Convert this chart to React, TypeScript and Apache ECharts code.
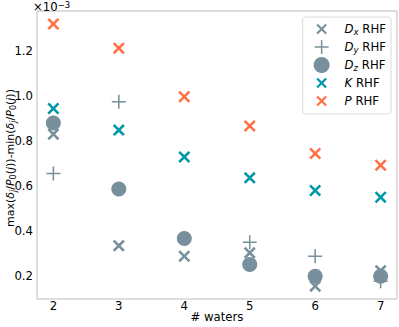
import React, { useEffect, useRef } from "react";
import * as echarts from "echarts";

const waters = [2, 3, 4, 5, 6, 7];
const dxRHF = [0.831, 0.336, 0.289, 0.304, 0.156, 0.225];
const dyRHF = [0.656, 0.975, 0.37, 0.351, 0.289, 0.178];
const dzRHF = [0.881, 0.588, 0.368, 0.252, 0.2, 0.2];
const kRHF = [0.945, 0.849, 0.73, 0.637, 0.581, 0.551];
const pRHF = [1.32, 1.213, 0.997, 0.867, 0.745, 0.693];
const xTicks = [2, 3, 4, 5, 6, 7];
const yTicks = [0.2, 0.4, 0.6, 0.8, 1.0, 1.2];

const GRAY = "#78909C";
const TEAL = "#0097A7";
const ORANGE = "#FF7043";
const FONT = "DejaVu Sans";
const FS = 11.7;

function xPath(S: number, d: number, box: number) {
  const o = (box - S) / 2;
  const h = S / 2;
  const pts = [
    [0, d], [d, 0], [h, h - d], [S - d, 0], [S, d], [h + d, h],
    [S, S - d], [S - d, S], [h, h + d], [d, S], [0, S - d], [h - d, h],
  ];
  let s = "path://";
  if (o > 0) s += `M0 0 M${box} ${box} `;
  s += pts.map((p, i) => `${i === 0 ? "M" : "L"}${(p[0] + o).toFixed(2)} ${(p[1] + o).toFixed(2)}`).join(" ") + " Z";
  return s;
}

function plusPath(S: number, w: number, box: number) {
  const o = (box - S) / 2;
  const a = S / 2 - w / 2;
  const b = S / 2 + w / 2;
  const pts = [
    [a, 0], [b, 0], [b, a], [S, a], [S, b], [b, b],
    [b, S], [a, S], [a, b], [0, b], [0, a], [a, a],
  ];
  let s = "path://";
  if (o > 0) s += `M0 0 M${box} ${box} `;
  s += pts.map((p, i) => `${i === 0 ? "M" : "L"}${(p[0] + o).toFixed(2)} ${(p[1] + o).toFixed(2)}`).join(" ") + " Z";
  return s;
}

const X_SYM = xPath(10, 1.5, 10);
const PLUS_SYM = plusPath(10, 1.1, 10);

const legendNames = ["Dx RHF", "Dy RHF", "Dz RHF", "K RHF", "P RHF"];
const legendRich: Record<string, string> = {
  "Dx RHF": "{i|D}{s|x}{n| RHF}",
  "Dy RHF": "{i|D}{s|y}{n| RHF}",
  "Dz RHF": "{i|D}{s|z}{n| RHF}",
  "K RHF": "{i|K}{n| RHF}",
  "P RHF": "{i|P}{n| RHF}",
};

function richSet(size: number, sub: number, lh: number, pad: number) {
  return {
    n: { fontFamily: FONT, fontSize: size, color: "#000", lineHeight: lh },
    i: { fontFamily: FONT, fontSize: size, fontStyle: "italic", color: "#000", lineHeight: lh },
    s: { fontFamily: FONT, fontSize: sub, fontStyle: "italic", color: "#000", lineHeight: lh, verticalAlign: "bottom", padding: [pad, 0, 0, 0] },
    s0: { fontFamily: FONT, fontSize: sub, color: "#000", lineHeight: lh, verticalAlign: "bottom", padding: [pad, 0, 0, 0] },
  };
}

export default function App() {
  const ref = useRef<HTMLDivElement>(null);
  useEffect(() => {
    if (!ref.current) return;
    const chart = echarts.init(ref.current, null, { renderer: "svg" });
    const mk = (vals: number[]) => waters.map((w, i) => [w, vals[i]]);
    const yName =
      "{n|max(}{i|δ}{s|j}{n|/}{i|P}{s0|0}{n|(}{i|j}{n|))-min(}{i|δ}{s|j}{n|/}{i|P}{s0|0}{n|(}{i|j}{n|))}";
    chart.setOption({
      animation: false,
      grid: { left: 37, top: 11, right: 2, bottom: 28, outerBoundsMode: "none", containLabel: false, show: true, borderColor: "#bdbdbd", borderWidth: 1, backgroundColor: "transparent" },
      xAxis: {
        type: "value",
        min: 1.75,
        max: 7.25,
        axisLine: { show: false },
        axisTick: { show: false },
        splitLine: { show: false },
        axisLabel: { customValues: xTicks, fontFamily: FONT, fontSize: FS, color: "#000", margin: 1 },
      },
      yAxis: {
        type: "value",
        min: 0.099,
        max: 1.378,
        axisLine: { show: false },
        axisTick: { show: false },
        splitLine: { show: false },
        axisLabel: { customValues: yTicks, fontFamily: FONT, fontSize: FS, color: "#000", margin: 4, formatter: (v: number) => v.toFixed(1) },
      },
      legend: {
        orient: "vertical",
        right: 8,
        top: 17,
        itemWidth: 16,
        itemHeight: 16,
        itemGap: 2,
        padding: [4, 5, 5, 11],
        borderColor: "#dcdcdc",
        borderWidth: 1,
        borderRadius: 3,
        backgroundColor: "rgba(255,255,255,0.8)",
        data: [
          { name: "Dx RHF", icon: xPath(10.5, 1.5, 16) },
          { name: "Dy RHF", icon: plusPath(14, 1.5, 16) },
          { name: "Dz RHF", icon: "circle" },
          { name: "K RHF", icon: xPath(10.5, 1.6, 16) },
          { name: "P RHF", icon: xPath(10.5, 1.6, 16) },
        ],
        formatter: (name: string) => legendRich[name],
        textStyle: { padding: [0, 0, 0, 10], rich: richSet(FS, 8.5, 15, 4) },
      },
      graphic: [
        {
          type: "text",
          left: 33,
          top: 0,
          style: {
            text: "{n|×10}{sup|−3}",
            rich: {
              n: { fontFamily: FONT, fontSize: FS, color: "#000", lineHeight: 14 },
              sup: { fontFamily: FONT, fontSize: 8.5, color: "#000", lineHeight: 14, verticalAlign: "top", padding: [0, 0, 4, 0] },
            },
          },
        },
        {
          type: "text",
          x: 10,
          y: 158,
          rotation: Math.PI / 2,
          style: {
            text: yName,
            align: "center",
            verticalAlign: "middle",
            rich: richSet(11, 8, 14, 4),
          },
        },
        {
          type: "text",
          x: 217,
          y: 317,
          style: {
            text: "# waters",
            align: "center",
            verticalAlign: "middle",
            fontFamily: FONT,
            fontSize: FS,
            fill: "#000",
          },
        },
      ],
      series: [
        { name: legendNames[0], type: "scatter", data: mk(dxRHF), symbol: X_SYM, symbolSize: 12, itemStyle: { color: GRAY, opacity: 1 } },
        { name: legendNames[1], type: "scatter", data: mk(dyRHF), symbol: PLUS_SYM, symbolSize: 14, itemStyle: { color: GRAY, opacity: 1 } },
        { name: legendNames[2], type: "scatter", data: mk(dzRHF), symbol: "circle", symbolSize: 15, itemStyle: { color: GRAY, opacity: 1 } },
        { name: legendNames[3], type: "scatter", data: mk(kRHF), symbol: X_SYM, symbolSize: 12, itemStyle: { color: TEAL, opacity: 1 } },
        { name: legendNames[4], type: "scatter", data: mk(pRHF), symbol: X_SYM, symbolSize: 12, itemStyle: { color: ORANGE, opacity: 1 } },
      ],
    });
    return () => chart.dispose();
  }, []);
  return <div ref={ref} style={{ width: 399, height: 327, position: "absolute", left: 0, top: 0 }} />;
}
